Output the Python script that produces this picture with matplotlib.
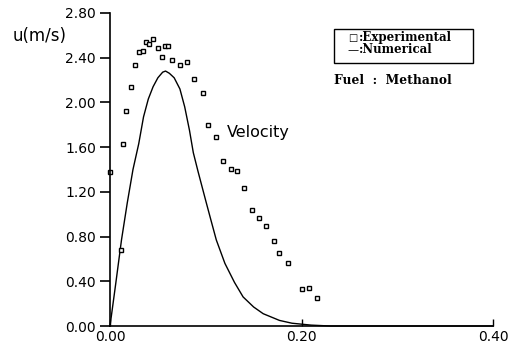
import matplotlib
matplotlib.use('Agg')
import matplotlib.pyplot as plt
from matplotlib.patches import Rectangle

# experimental velocity points
exp_x = [0.000, 0.012, 0.014, 0.017, 0.022, 0.026, 0.030, 0.034, 0.0375, 0.041,
         0.045, 0.050, 0.054, 0.057, 0.061, 0.065, 0.073, 0.080, 0.088, 0.097,
         0.102, 0.111, 0.118, 0.126, 0.133, 0.140, 0.148, 0.156, 0.163, 0.171,
         0.177, 0.186, 0.200, 0.208, 0.216]
exp_u = [1.38, 0.68, 1.63, 1.92, 2.14, 2.33, 2.45, 2.46, 2.54, 2.52,
         2.57, 2.49, 2.41, 2.50, 2.50, 2.38, 2.33, 2.36, 2.21, 2.08,
         1.80, 1.69, 1.48, 1.40, 1.39, 1.23, 1.04, 0.97, 0.89, 0.76,
         0.65, 0.56, 0.33, 0.34, 0.25]

# numerical solution
num_x = [0.000, 0.006, 0.012, 0.018, 0.024, 0.030, 0.035, 0.040, 0.045, 0.050,
         0.055, 0.058, 0.062, 0.067, 0.073, 0.078, 0.083, 0.087, 0.092, 0.100,
         0.105, 0.111, 0.120, 0.130, 0.139, 0.150, 0.160, 0.177, 0.190, 0.210,
         0.230, 0.400]
num_u = [0.00, 0.38, 0.77, 1.10, 1.40, 1.63, 1.87, 2.03, 2.14, 2.22,
         2.27, 2.28, 2.26, 2.22, 2.12, 1.96, 1.75, 1.55, 1.38, 1.12,
         0.96, 0.77, 0.56, 0.39, 0.26, 0.17, 0.11, 0.05, 0.025, 0.008,
         0.0, 0.0]

x_ticks = [0.00, 0.20, 0.40]
y_ticks = [0.00, 0.40, 0.80, 1.20, 1.60, 2.00, 2.40, 2.80]

fig = plt.figure(figsize=(5.10, 3.51), dpi=100)
ax = fig.add_axes([0.2157, 0.0712, 0.751, 0.892])

ax.plot(num_x, num_u, color='black', linewidth=1.0, clip_on=False)
ax.plot(exp_x, exp_u, linestyle='none', marker='s', markersize=3.5,
        markerfacecolor='white', markeredgecolor='black', markeredgewidth=1.0,
        clip_on=False)

ax.set_xlim(0, 0.40)
ax.set_ylim(0, 2.80)
ax.set_xticks(x_ticks)
ax.set_xticklabels(['%.2f' % v for v in x_ticks])
ax.set_yticks(y_ticks)
ax.set_yticklabels(['%.2f' % v for v in y_ticks])

for s in ['top', 'right']:
    ax.spines[s].set_visible(False)
for s in ['left', 'bottom']:
    ax.spines[s].set_linewidth(1.2)

ax.tick_params(axis='y', direction='out', length=7, width=1.2, labelsize=10, pad=3)
ax.tick_params(axis='x', direction='in', length=5, width=1.0, labelsize=10, pad=3)

fig.text(0.025, 0.897, 'u(m/s)', fontsize=12, ha='left', va='center')
ax.text(0.122, 1.73, 'Velocity', fontsize=11.5, ha='left', va='center')

# legend box
fig.add_artist(Rectangle((0.655, 0.821), 0.272, 0.096, transform=fig.transFigure,
                         facecolor='white', edgecolor='black', linewidth=1.0))
fig.text(0.682, 0.892, '\u25a1', fontsize=7, ha='left', va='center')
fig.text(0.682, 0.858, '\u2014', fontsize=8, ha='left', va='center')
fig.text(0.703, 0.892, ':Experimental', fontsize=8.5, family='DejaVu Serif',
         fontweight='bold', ha='left', va='center')
fig.text(0.703, 0.858, ':Numerical', fontsize=8.5, family='DejaVu Serif',
         fontweight='bold', ha='left', va='center')
fig.text(0.655, 0.772, 'Fuel  :  Methanol', fontsize=8.8,
         family='DejaVu Serif', fontweight='bold', ha='left', va='center')

fig.savefig('out.png', dpi=100)
